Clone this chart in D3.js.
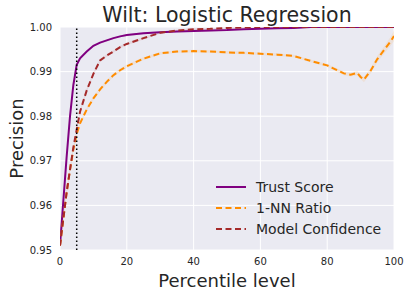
<!DOCTYPE html>
<html>
<head>
<meta charset="UTF-8">
<title>Wilt: Logistic Regression</title>
<script src="https://cdn.jsdelivr.net/npm/d3@7"></script>
<style>
  body { margin: 0; background: #fff; }
  text { font-family: "DejaVu Sans", sans-serif; fill: #262626; }
</style>
</head>
<body>
<div id="chart"></div>
<script>
var percentiles = [0, 1, 2, 3, 4, 5, 6, 8, 10, 12, 14, 16, 18, 20, 25, 30, 35, 40, 45, 50,
                   55, 60, 65, 70, 75, 80, 83, 85, 87, 89, 90, 91, 92, 93, 95, 97, 99, 100];

var trustScore = [0.951, 0.961, 0.971, 0.980, 0.987, 0.9915, 0.993, 0.9945, 0.9958, 0.9965,
                  0.997, 0.9975, 0.9979, 0.9982, 0.9986, 0.9988, 0.9990, 0.9991, 0.9992, 0.9993,
                  0.9995, 0.9996, 0.9997, 0.9998, 1.0, 1.0, 1.0, 1.0, 1.0, 1.0, 1.0, 1.0, 1.0, 1.0,
                  1.0, 1.0, 1.0, 1.0];

var nnRatio = [0.951, 0.957, 0.963, 0.968, 0.9725, 0.976, 0.9784, 0.9815, 0.984, 0.986,
               0.9877, 0.9892, 0.9903, 0.9912, 0.9929, 0.9941, 0.9945, 0.9946, 0.9945, 0.9943,
               0.9942, 0.9940, 0.9938, 0.9935, 0.9924, 0.9914, 0.9903, 0.9896, 0.9893, 0.9897,
               0.9888, 0.9882, 0.9892, 0.9902, 0.9928, 0.9948, 0.9968, 0.998];

var modelConf = [0.951, 0.957, 0.963, 0.968, 0.973, 0.977, 0.981, 0.9858, 0.9895, 0.9925,
                 0.9936, 0.9945, 0.9955, 0.9962, 0.9975, 0.9987, 0.9992, 0.9995, 0.9996, 0.9998,
                 0.9999, 1.0, 1.0, 1.0, 1.0, 1.0, 1.0, 1.0, 1.0, 1.0, 1.0, 1.0, 1.0, 1.0,
                 1.0, 1.0, 1.0, 1.0];

// half-width of the shaded bands
var trustErr = [0.0003, 0.0003, 0.0003, 0.0003, 0.0003, 0.0002, 0.0002, 0.0002, 0.0002, 0.0002,
                0.0002, 0.0002, 0.0002, 0.0002, 0.0002, 0.0002, 0.0002, 0.0002, 0.0002, 0.0001,
                0.0001, 0.0001, 0.0001, 0.0001, 0.0, 0.0, 0.0, 0.0, 0.0, 0.0, 0.0, 0.0, 0.0, 0.0,
                0.0, 0.0, 0.0, 0.0];
var nnErr = [0.0004, 0.0004, 0.0004, 0.0004, 0.0004, 0.0004, 0.0004, 0.0004, 0.0004, 0.0004,
             0.0004, 0.0004, 0.0004, 0.0004, 0.0003, 0.0003, 0.0003, 0.0003, 0.0003, 0.0003,
             0.0003, 0.0003, 0.0003, 0.0003, 0.0003, 0.0003, 0.0004, 0.0004, 0.0004, 0.0005,
             0.0005, 0.0006, 0.0006, 0.0006, 0.0007, 0.0008, 0.001, 0.0012];
var confErr = [0.0004, 0.0004, 0.0004, 0.0004, 0.0004, 0.0004, 0.0004, 0.0004, 0.0004, 0.0004,
               0.0003, 0.0003, 0.0003, 0.0003, 0.0003, 0.0002, 0.0002, 0.0002, 0.0001, 0.0001,
               0.0001, 0.0, 0.0, 0.0, 0.0, 0.0, 0.0, 0.0, 0.0, 0.0, 0.0, 0.0, 0.0, 0.0,
               0.0, 0.0, 0.0, 0.0];

var xTicks = [0, 20, 40, 60, 80, 100];
var yTicks = [0.95, 0.96, 0.97, 0.98, 0.99, 1.00];
var cutoff = 5;

var series = [
  { name: "Trust Score", values: trustScore, err: trustErr, color: "#800080", dash: null },
  { name: "1-NN Ratio", values: nnRatio, err: nnErr, color: "#ff8c00", dash: "6,3.5" },
  { name: "Model Confidence", values: modelConf, err: confErr, color: "#a52a2a", dash: "6,3.5" }
];

var W = 410, H = 297,
    margin = { left: 60, right: 16, top: 27, bottom: 47 };

var svg = d3.select("#chart").append("svg")
    .attr("width", W)
    .attr("height", H);

var x = d3.scaleLinear().domain([0, 100]).range([margin.left, W - margin.right]);
var y = d3.scaleLinear().domain([0.95, 1.0]).range([H - margin.bottom, margin.top]);

svg.append("defs").append("clipPath").attr("id", "clip")
  .append("rect")
    .attr("x", x(0)).attr("y", y(1.0))
    .attr("width", x(100) - x(0)).attr("height", y(0.95) - y(1.0));

svg.append("rect")
    .attr("x", x(0)).attr("y", y(1.0))
    .attr("width", x(100) - x(0)).attr("height", y(0.95) - y(1.0))
    .attr("fill", "#eaeaf2");

// grid
svg.append("g").selectAll("line").data(xTicks).enter().append("line")
    .attr("x1", d => x(d)).attr("x2", d => x(d))
    .attr("y1", y(0.95)).attr("y2", y(1.0))
    .attr("stroke", "#fff").attr("stroke-width", 1);
svg.append("g").selectAll("line").data(yTicks).enter().append("line")
    .attr("x1", x(0)).attr("x2", x(100))
    .attr("y1", d => y(d)).attr("y2", d => y(d))
    .attr("stroke", "#fff").attr("stroke-width", 1);

var plot = svg.append("g").attr("clip-path", "url(#clip)");

var area = d3.area()
    .x(d => x(d.p))
    .y0(d => y(d.v - d.e))
    .y1(d => y(d.v + d.e));

var line = d3.line()
    .x(d => x(d.p))
    .y(d => y(d.v));

series.forEach(function(s) {
  var pts = percentiles.map((p, i) => ({ p: p, v: s.values[i], e: s.err[i] }));
  plot.append("path").datum(pts)
      .attr("d", area)
      .attr("fill", s.color)
      .attr("fill-opacity", 0.1);
});

series.forEach(function(s) {
  var pts = percentiles.map((p, i) => ({ p: p, v: s.values[i] }));
  plot.append("path").datum(pts)
      .attr("d", line)
      .attr("fill", "none")
      .attr("stroke", s.color)
      .attr("stroke-width", 2)
      .attr("stroke-dasharray", s.dash);
});

// cutoff marker
svg.append("line")
    .attr("x1", x(cutoff)).attr("x2", x(cutoff))
    .attr("y1", y(0.95)).attr("y2", y(1.0))
    .attr("stroke", "#000")
    .attr("stroke-width", 1.5)
    .attr("stroke-dasharray", "1.5,2.5");

// tick labels
svg.append("g").selectAll("text").data(xTicks).enter().append("text")
    .attr("x", d => x(d))
    .attr("y", y(0.95) + 15)
    .attr("text-anchor", "middle")
    .attr("font-size", 10)
    .text(d => d);
svg.append("g").selectAll("text").data(yTicks).enter().append("text")
    .attr("x", x(0) - 8)
    .attr("y", d => y(d))
    .attr("dy", "0.35em")
    .attr("text-anchor", "end")
    .attr("font-size", 10)
    .text(d => d3.format(".2f")(d));

// labels
svg.append("text")
    .attr("x", (x(0) + x(100)) / 2)
    .attr("y", 22)
    .attr("text-anchor", "middle")
    .attr("font-size", 20.5)
    .text("Wilt: Logistic Regression");
svg.append("text")
    .attr("x", (x(0) + x(100)) / 2)
    .attr("y", 287)
    .attr("text-anchor", "middle")
    .attr("font-size", 18)
    .text("Percentile level");
svg.append("text")
    .attr("transform", "translate(23," + ((y(0.95) + y(1.0)) / 2) + ") rotate(-90)")
    .attr("text-anchor", "middle")
    .attr("font-size", 18)
    .text("Precision");

// legend
var legend = svg.append("g").attr("transform", "translate(216,187)");
series.forEach(function(s, i) {
  var g = legend.append("g").attr("transform", "translate(0," + (i * 21) + ")");
  g.append("line")
      .attr("x1", 0).attr("x2", 30)
      .attr("y1", 0).attr("y2", 0)
      .attr("stroke", s.color)
      .attr("stroke-width", 2)
      .attr("stroke-dasharray", s.dash);
  g.append("text")
      .attr("x", 40)
      .attr("y", 0)
      .attr("dy", "0.35em")
      .attr("font-size", 14)
      .text(s.name);
});
</script>
</body>
</html>
